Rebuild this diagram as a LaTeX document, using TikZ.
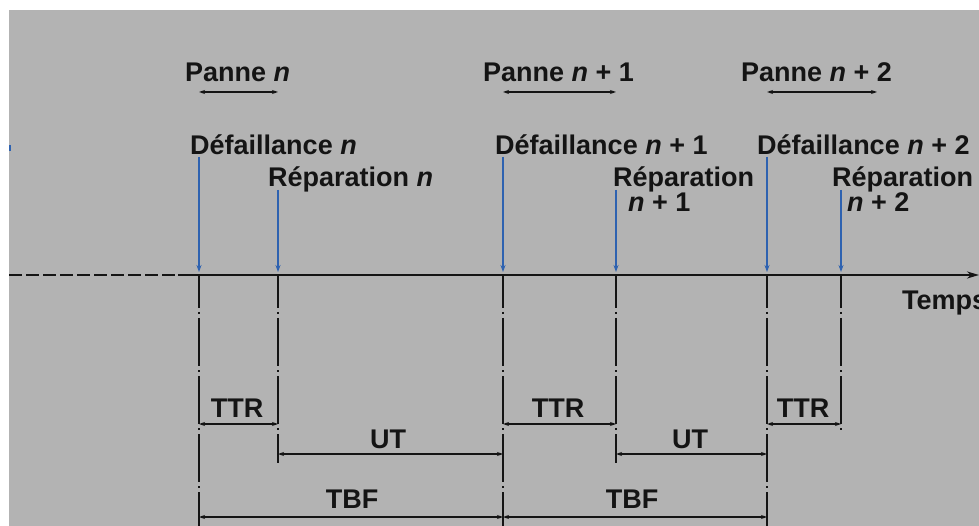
\documentclass[tikz,border=0pt]{standalone}
\usepackage{fontspec}
\setmainfont{Liberation Sans}
\usetikzlibrary{arrows.meta,calc}
\definecolor{bg}{HTML}{B3B3B3}
\definecolor{ink}{HTML}{141414}
\definecolor{evblue}{HTML}{2E62B0}
\tikzset{
 lbl/.style={font={\fontsize{27}{30}\selectfont\bfseries}, text=ink, inner sep=0pt, anchor=base west},
 dimlbl/.style={font={\fontsize{27}{30}\selectfont\bfseries}, text=ink, inner sep=0pt, anchor=base},
 evarrow/.style={evblue, line width=1.8pt, shorten >=3pt, -{Stealth[length=7pt,width=5pt]}},
 dimarrow/.style={ink, line width=1.5pt, {Stealth[length=6pt,width=4pt]}-{Stealth[length=6pt,width=4pt]}},
 pannearrow/.style={ink, line width=1.3pt, {Stealth[length=6pt,width=4pt]}-{Stealth[length=6pt,width=4pt]}},
 extline/.style={ink, line width=2pt, dash pattern=on 48pt off 4pt on 2pt off 4pt, dash phase=15pt},
 axisline/.style={ink, line width=2pt},
}
\newcommand{\nn}{{\itshape n}}
\begin{document}
\begin{tikzpicture}[x=1pt,y=-1pt]
\useasboundingbox (0,0) rectangle (979,526);
\clip (0,0) rectangle (979,526);
\fill[white] (0,0) rectangle (979,526);
\fill[bg] (9,10) rectangle (979,526);

% axis
\coordinate (axL) at (9,275);
\coordinate (axM) at (178,275);
\coordinate (axR) at (979,275);
\draw[axisline, dash pattern=on 13pt off 4pt] (axL) -- (axM);
\draw[axisline, -{Stealth[length=12pt,width=7pt]}] (axM) -- (axR);
\node[lbl] (temps) at (902,310) {Temps};

% event points on the axis
\coordinate (d1) at (199,275);
\coordinate (r1) at (278,275);
\coordinate (d2) at (503,275);
\coordinate (r2) at (616,275);
\coordinate (d3) at (767,275);
\coordinate (r3) at (841,275);

% level coordinates
\coordinate (ytopD) at (0,157);
\coordinate (ytopR) at (0,190);
\coordinate (ybot) at (0,526);
\coordinate (yRb) at (0,463);
\coordinate (yR3b) at (0,433);
\coordinate (yttr) at (0,424);
\coordinate (yut) at (0,454);
\coordinate (ytbf) at (0,517);
\coordinate (ypan) at (0,92);

% labels
\node[lbl] (pn1) at (185,82) {Panne \nn};
\node[lbl] (pn2) at (483,82) {Panne \nn\ + 1};
\node[lbl] (pn3) at (741,82) {Panne \nn\ + 2};
\node[lbl] (df1) at (190,155) {Défaillance \nn};
\node[lbl] (df2) at (495,155) {Défaillance \nn\ + 1};
\node[lbl] (df3) at (757,155) {Défaillance \nn\ + 2};
\node[lbl] (rp1) at (268,187) {Réparation \nn};
\node[lbl] (rp2) at (613,187) {Réparation};
\node[lbl] (rp2b) at (628,212) {\nn\ + 1};
\node[lbl] (rp3) at (832,187) {Réparation};
\node[lbl] (rp3b) at (847,212) {\nn\ + 2};

% panne arrows
\draw[pannearrow] (d1 |- ypan) -- (r1 |- ypan);
\draw[pannearrow] (d2 |- ypan) -- (r2 |- ypan);
\draw[pannearrow] (d3 |- ypan) -- (877,92);

% blue event arrows
\foreach \p in {d1,d2,d3} \draw[evarrow] (\p |- ytopD) -- (\p);
\foreach \p in {r1,r2,r3} \draw[evarrow] (\p |- ytopR) -- (\p);
\draw[evblue, line width=2pt] (10,145) -- (10,151);

% extension lines
\foreach \p in {d1,d2,d3} \draw[extline] (\p) -- (\p |- ybot);
\foreach \p in {r1,r2} \draw[extline, line width=2.4pt] (\p) -- (\p |- yRb);
\draw[extline, line width=2.4pt] (r3) -- (r3 |- yR3b);

% dimension arrows
\draw[dimarrow] (d1 |- yttr) -- (r1 |- yttr);
\draw[dimarrow] (d2 |- yttr) -- (r2 |- yttr);
\draw[dimarrow] (d3 |- yttr) -- (r3 |- yttr);
\draw[dimarrow] (r1 |- yut) -- (d2 |- yut);
\draw[dimarrow] (r2 |- yut) -- (d3 |- yut);
\draw[dimarrow] (d1 |- ytbf) -- (d2 |- ytbf);
\draw[dimarrow] (d2 |- ytbf) -- (d3 |- ytbf);

\node[dimlbl] (ttr1) at (237,417) {TTR};
\node[dimlbl] (ttr2) at (558,417) {TTR};
\node[dimlbl] (ttr3) at (803,417) {TTR};
\node[dimlbl] (ut1) at (388,448) {UT};
\node[dimlbl] (ut2) at (690,448) {UT};
\node[dimlbl] (tbf1) at (352,508) {TBF};
\node[dimlbl] (tbf2) at (632,508) {TBF};
\end{tikzpicture}
\end{document}
